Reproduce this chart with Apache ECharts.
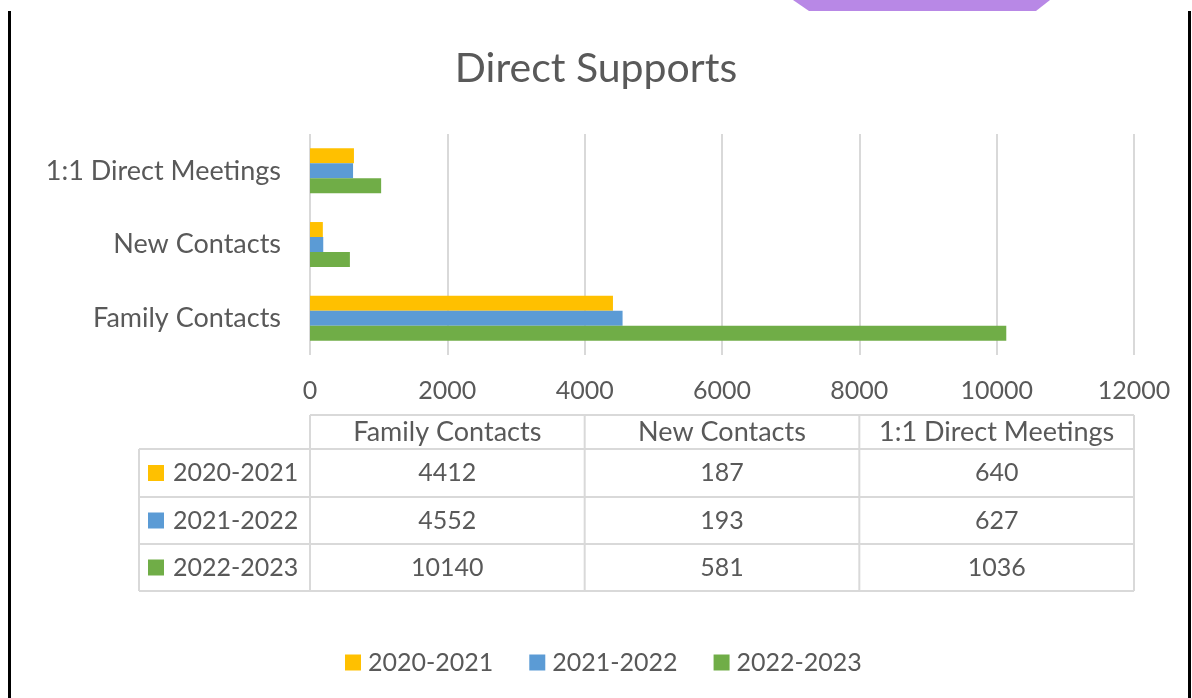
<!DOCTYPE html>
<html>
<head>
<meta charset="utf-8">
<script src="https://cdn.jsdelivr.net/npm/echarts@6/dist/echarts.min.js"></script>
<style>
html,body{margin:0;padding:0;background:#fff;}
#chart{width:1192px;height:698px;}
</style>
</head>
<body>
<div id="chart"></div>
<script>
// ---- data ----
const categories = ['Family Contacts', 'New Contacts', '1:1 Direct Meetings'];
const seriesNames = ['2020-2021', '2021-2022', '2022-2023'];
const values2020 = [4412, 187, 640];
const values2021 = [4552, 193, 627];
const values2022 = [10140, 581, 1036];
const xTicks = [0, 2000, 4000, 6000, 8000, 10000, 12000];

const colors = ['#FFC000', '#5B9BD5', '#70AD47'];
const seriesValues = [values2020, values2021, values2022];

const FONT = 'Lato';
const TXT = '#595959';
const GRIDC = '#D9D9D9';

const gridLeft = 310, gridRight = 58, gridTop = 134, gridHeight = 221;
const W = 1192;
const gridW = W - gridLeft - gridRight;

// ---- table graphics ----
const g = [];
// page decorations
g.push({type:'polygon', shape:{points:[[793,0],[1050,0],[1036,11],[809,11]]}, style:{fill:'#B888E6'}});
g.push({type:'line', shape:{x1:9.5,y1:11,x2:9.5,y2:698}, style:{stroke:'#000',lineWidth:3}});
g.push({type:'line', shape:{x1:1189.5,y1:11,x2:1189.5,y2:698}, style:{stroke:'#000',lineWidth:3}});

const colX = [0,1,2,3].map(i => gridLeft + i * gridW / 3);
const labelLeft = 139;
const rowY = [415, 449, 497, 544, 591];
const lineStyle = {stroke: GRIDC, lineWidth: 2};
// horizontal lines
g.push({type:'line', shape:{x1:colX[0], y1:rowY[0], x2:colX[3], y2:rowY[0]}, style:lineStyle});
for (let r = 1; r < rowY.length; r++) {
  g.push({type:'line', shape:{x1:labelLeft, y1:rowY[r], x2:colX[3], y2:rowY[r]}, style:lineStyle});
}
// vertical lines
g.push({type:'line', shape:{x1:labelLeft, y1:rowY[1], x2:labelLeft, y2:rowY[4]}, style:lineStyle});
colX.forEach(x => g.push({type:'line', shape:{x1:x, y1:rowY[0], x2:x, y2:rowY[4]}, style:lineStyle}));
// header texts
categories.forEach((c, i) => {
  g.push({type:'text', x:(colX[i]+colX[i+1])/2, y:(rowY[0]+rowY[1])/2,
    style:{text:c, fill:TXT, font:'27px ' + FONT, align:'center', verticalAlign:'middle'}});
});
// rows
seriesNames.forEach((s, r) => {
  const cy = (rowY[r+1] + rowY[r+2]) / 2;
  g.push({type:'rect', shape:{x:148, y:cy-8, width:16, height:16}, style:{fill:colors[r]}});
  g.push({type:'text', x:173, y:cy, style:{text:s, fill:TXT, font:'25px ' + FONT, align:'left', verticalAlign:'middle'}});
  seriesValues[r].forEach((v, i) => {
    g.push({type:'text', x:(colX[i]+colX[i+1])/2, y:cy,
      style:{text:String(v), fill:TXT, font:'25px ' + FONT, align:'center', verticalAlign:'middle'}});
  });
});

const chart = echarts.init(document.getElementById('chart'), null, {renderer:'canvas'});
chart.setOption({
  backgroundColor: '#fff',
  animation: false,
  title: {
    text: 'Direct Supports', left: 'center', top: 43,
    textStyle: {fontFamily: FONT, fontSize: 41, fontWeight: 'normal', color: TXT}
  },
  legend: {
    data: seriesNames, left: 340, top: 645,
    itemWidth: 16, itemHeight: 16, itemGap: 36,
    icon: 'rect',
    textStyle: {fontFamily: FONT, fontSize: 25, color: TXT, padding:[0,0,0,2]}
  },
  grid: {left: gridLeft, right: gridRight, top: gridTop, height: gridHeight, containLabel: false},
  xAxis: {
    type: 'value', min: 0, max: 12000, interval: 2000,
    axisLine: {show: false}, axisTick: {show: false},
    splitLine: {show: true, lineStyle: {color: GRIDC, width: 2}},
    axisLabel: {fontFamily: FONT, fontSize: 25, color: TXT, margin: 23, formatter: v => String(v)}
  },
  yAxis: {
    type: 'category', data: categories,
    axisLine: {show: false}, axisTick: {show: false},
    axisLabel: {fontFamily: FONT, fontSize: 27, color: TXT, margin: 29}
  },
  series: seriesNames.map((name, i) => ({
    name, type: 'bar', data: seriesValues[i],
    itemStyle: {color: colors[i]},
    barGap: '0%', barCategoryGap: '39%'
  })),
  graphic: g
});
</script>
</body>
</html>
